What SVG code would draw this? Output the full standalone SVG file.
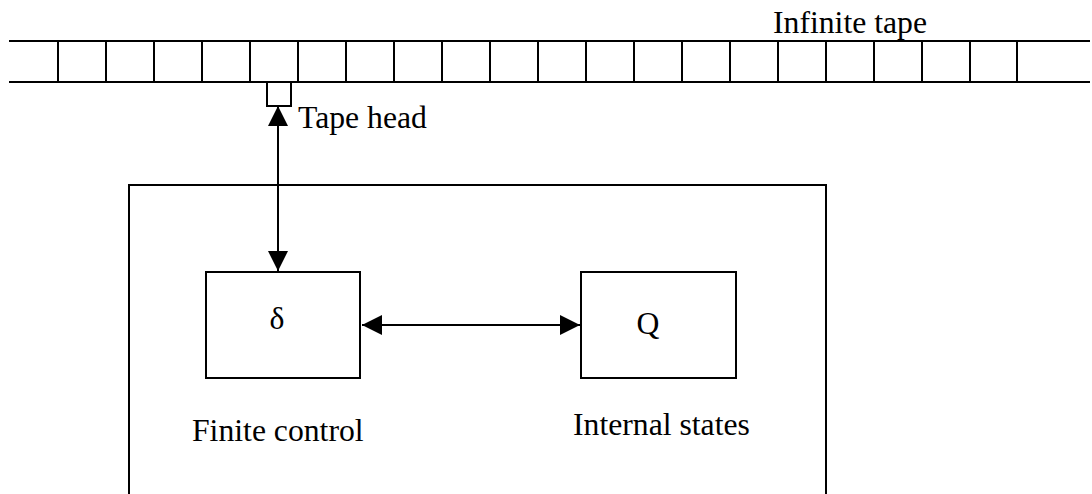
<svg xmlns="http://www.w3.org/2000/svg" width="1092" height="494" viewBox="0 0 1092 494">
<defs>
<style>
.ln{stroke:#000;stroke-width:2;fill:none}
.bx{stroke:#000;stroke-width:2;fill:#fff}
.tx{font-family:"Liberation Serif","Times New Roman",serif;font-size:31.7px;fill:#000}
</style>
<marker id="ah" markerUnits="userSpaceOnUse" markerWidth="20" markerHeight="20" viewBox="0 0 20 20" refX="20" refY="10" orient="auto-start-reverse">
<path d="M0,0 L20,10 L0,20 z" fill="#000"/>
</marker>
</defs>
<rect width="1092" height="494" fill="#fff"/>
<g id="tape">
<line class="ln" x1="9" y1="41" x2="1090" y2="41"/>
<line class="ln" x1="9" y1="82" x2="1090" y2="82"/>
<path class="ln" d="M58,41V82M106,41V82M154,41V82M202,41V82M250,41V82M298,41V82M346,41V82M394,41V82M442,41V82M490,41V82M538,41V82M586,41V82M634,41V82M682,41V82M730,41V82M778,41V82M826,41V82M874,41V82M922,41V82M970,41V82M1017,41V82"/>
<text class="tx" x="773" y="33">Infinite tape</text>
</g>
<g id="tape-head">
<rect class="bx" x="267" y="82" width="24" height="24"/>
<text class="tx" x="298" y="128">Tape head</text>
</g>
<g id="machine">
<rect class="ln" x="129" y="185" width="697" height="320"/>
</g>
<g id="finite-control">
<rect class="bx" x="206" y="272" width="154" height="106"/>
<text class="tx" x="277" y="329" text-anchor="middle">δ</text>
<text class="tx" x="192" y="441">Finite control</text>
</g>
<g id="internal-states">
<rect class="bx" x="581" y="272" width="155" height="106"/>
<text class="tx" x="648" y="334" text-anchor="middle">Q</text>
<text class="tx" x="573" y="435">Internal states</text>
</g>
<g id="connectors">
<line class="ln" x1="278" y1="106" x2="278" y2="271" marker-start="url(#ah)" marker-end="url(#ah)"/>
<line class="ln" x1="362" y1="325" x2="580" y2="325" marker-start="url(#ah)" marker-end="url(#ah)"/>
</g>
</svg>
